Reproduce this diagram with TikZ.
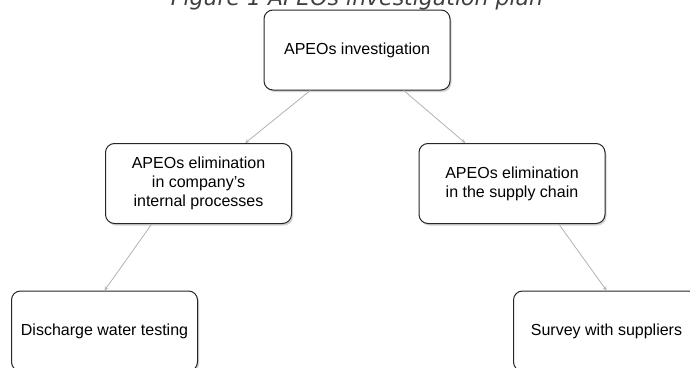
\documentclass[tikz,border=0pt]{standalone}
\usepackage{fontspec}
\setmainfont{Liberation Sans}
\newfontfamily\titlefont{DejaVu Sans}
\usetikzlibrary{calc,shadows}
\begin{document}
\begin{tikzpicture}[x=1pt,y=-1pt,
	box/.style={draw=black!85,line width=1pt,rounded corners=9pt,fill=white,
		minimum width=186pt,minimum height=80pt,align=center,
		font=\fontsize{16}{19}\selectfont,
		drop shadow={shadow xshift=1.5pt,shadow yshift=-2pt,opacity=0.35}},
	link/.style={-stealth,draw=black!30,line width=0.8pt}]
		\useasboundingbox (0,0) rectangle (690,367);
		\node[font=\titlefont\itshape\fontsize{22}{26}\selectfont,anchor=base,text=black!75] (title) at (357,5) {Figure 1 APEOs investigation plan};
		
		\node[box] (invest) at (357,50) {APEOs investigation};
		\node[box] (internal) at (198.5,183.5) {APEOs elimination\\in company's\\internal processes};
		\node[box] (supply) at (512,183.5) {APEOs elimination\\in the supply chain};
		\node[box] (water) at (104.5,331) {Discharge water testing};
		\node[box] (survey) at (606.5,331) {Survey with suppliers};
		
		\draw[link] ($(invest.south west)!0.25!(invest.south east)$) -- ($(internal.north west)!0.75!(internal.north east)$);
		\draw[link] ($(invest.south west)!0.75!(invest.south east)$) -- ($(supply.north west)!0.25!(supply.north east)$);
		\draw[link] ($(internal.south west)!0.25!(internal.south east)$) -- (water.north);
		\draw[link] ($(supply.south west)!0.75!(supply.south east)$) -- (survey.north);
		\end{tikzpicture}
\end{document}
